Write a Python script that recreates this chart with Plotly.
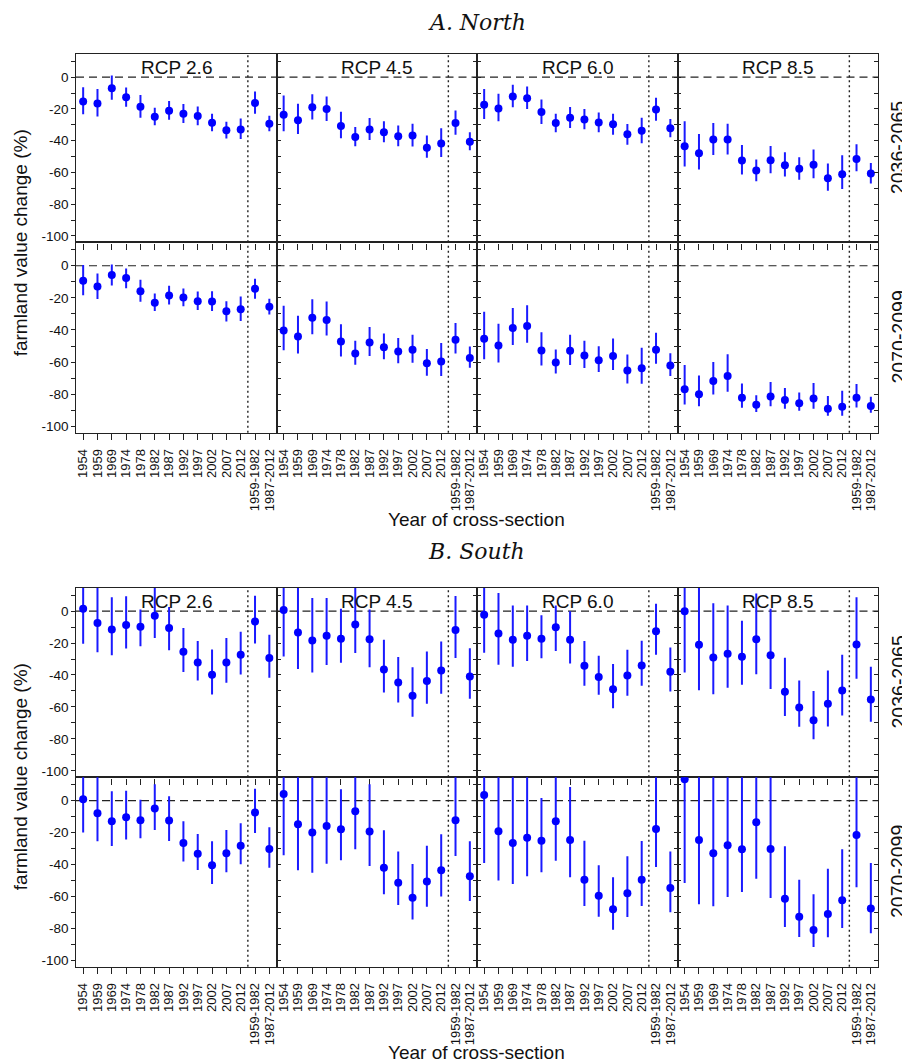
import plotly.graph_objects as go

# ---------------- data ----------------
years = ["1954", "1959", "1969", "1974", "1978", "1982", "1987", "1992",
         "1997", "2002", "2007", "2012", "1959-1982", "1987-2012"]
scenarios = ["RCP 2.6", "RCP 4.5", "RCP 6.0", "RCP 8.5"]
periods = ["2036-2065", "2070-2099"]
regions = ["A. North", "B. South"]
y_tick_values = [-100, -90, -80, -70, -60, -50, -40, -30, -20, -10, 0, 10]
y_tick_labels = ["-100", "", "-80", "", "-60", "", "-40", "", "-20", "", "0", ""]

# North, 2036-2065
n1_rcp26_est = [-15.3, -16.5, -6.9, -12.6, -18.6, -24.9, -21.1, -23.0, -24.5, -28.7, -33.5, -33.0, -16.3, -29.3]
n1_rcp26_lo = [-23.4, -24.7, -14.2, -18.6, -25.5, -30.3, -26.8, -28.9, -30.3, -34.1, -38.7, -38.9, -23.0, -34.1]
n1_rcp26_hi = [-6.3, -7.5, 1.0, -6.5, -11.3, -19.2, -15.0, -16.9, -18.4, -23.0, -28.0, -26.0, -9.0, -24.3]
n1_rcp45_est = [-23.6, -27.2, -19.0, -20.1, -30.8, -37.7, -33.0, -34.7, -37.2, -36.8, -44.4, -41.8, -28.9, -40.6]
n1_rcp45_lo = [-34.1, -35.8, -26.6, -27.6, -38.5, -43.5, -39.5, -41.0, -43.5, -43.7, -50.8, -50.2, -36.2, -46.0]
n1_rcp45_hi = [-11.5, -16.7, -10.7, -12.1, -21.8, -31.4, -25.7, -27.8, -30.5, -29.3, -36.8, -32.2, -21.0, -34.7]
n1_rcp60_est = [-17.4, -19.7, -12.1, -13.2, -22.0, -28.9, -25.5, -26.6, -28.5, -29.7, -36.0, -33.7, -20.3, -32.2]
n1_rcp60_lo = [-26.4, -27.8, -19.0, -20.1, -29.5, -34.7, -32.0, -32.8, -34.7, -36.2, -42.5, -41.6, -27.4, -37.9]
n1_rcp60_hi = [-7.5, -10.5, -4.8, -5.9, -14.0, -23.0, -18.8, -20.1, -22.2, -23.0, -29.5, -25.5, -13.0, -26.4]
n1_rcp85_est = [-43.5, -47.9, -39.3, -39.3, -52.5, -58.8, -52.3, -55.4, -57.7, -55.2, -63.6, -61.1, -51.5, -60.7]
n1_rcp85_lo = [-56.3, -58.2, -49.0, -48.7, -61.3, -65.5, -60.5, -62.6, -64.6, -63.6, -71.5, -70.5, -59.2, -66.9]
n1_rcp85_hi = [-27.8, -35.8, -28.9, -29.3, -42.7, -51.9, -43.3, -47.3, -50.4, -45.6, -54.4, -49.2, -42.3, -54.0]

# North, 2070-2099
n2_rcp26_est = [-9.4, -12.9, -5.8, -7.7, -15.9, -23.0, -18.6, -19.8, -22.1, -22.3, -28.4, -27.1, -14.4, -25.5]
n2_rcp26_lo = [-18.4, -20.7, -12.3, -14.0, -22.5, -28.2, -24.2, -25.3, -27.6, -28.2, -34.7, -34.4, -20.5, -30.3]
n2_rcp26_hi = [0.4, -4.8, 0.8, -1.7, -8.8, -17.3, -12.5, -14.2, -16.1, -15.9, -22.1, -19.2, -8.1, -20.5]
n2_rcp45_est = [-40.3, -44.0, -32.4, -33.8, -47.2, -54.7, -47.8, -50.7, -53.4, -52.4, -60.8, -59.7, -46.1, -57.4]
n2_rcp45_lo = [-52.6, -54.7, -42.6, -43.4, -56.6, -61.6, -56.2, -58.2, -60.8, -60.5, -68.5, -68.7, -54.7, -63.5]
n2_rcp45_hi = [-25.0, -31.1, -20.9, -22.3, -36.5, -46.8, -38.2, -42.2, -45.0, -43.0, -51.8, -48.2, -35.7, -50.3]
n2_rcp60_est = [-45.5, -49.7, -38.8, -37.6, -52.8, -60.3, -53.0, -55.9, -58.9, -56.2, -65.3, -63.9, -52.4, -62.2]
n2_rcp60_lo = [-58.2, -60.3, -49.3, -48.0, -62.2, -67.2, -61.8, -63.7, -66.2, -64.9, -73.3, -73.5, -61.0, -68.7]
n2_rcp60_hi = [-28.6, -36.1, -26.3, -24.6, -41.5, -52.2, -43.0, -46.8, -50.1, -45.3, -55.3, -51.1, -41.8, -54.5]
n2_rcp85_est = [-77.0, -80.0, -71.8, -68.7, -82.3, -86.6, -81.4, -83.7, -85.6, -82.7, -89.1, -87.9, -82.3, -87.3]
n2_rcp85_lo = [-86.4, -87.5, -80.2, -78.5, -88.5, -91.1, -87.5, -89.1, -90.4, -89.1, -93.5, -93.5, -88.3, -91.5]
n2_rcp85_hi = [-61.8, -68.3, -59.9, -55.1, -73.3, -80.6, -72.4, -76.2, -78.9, -73.1, -81.2, -77.9, -73.7, -81.6]

# South, 2036-2065
s1_rcp26_est = [1.5, -7.5, -11.5, -8.8, -9.8, -2.9, -10.6, -25.5, -32.2, -39.9, -32.2, -27.3, -6.5, -29.4]
s1_rcp26_lo = [-20.5, -25.7, -27.6, -23.4, -22.1, -16.9, -24.6, -38.2, -43.4, -52.2, -44.9, -39.7, -20.3, -41.8]
s1_rcp26_hi = [22.0, 16.0, 8.6, 9.2, 1.0, 15.0, 2.5, -10.6, -18.8, -24.0, -16.9, -12.9, 9.6, -14.8]
s1_rcp45_est = [0.6, -13.4, -18.4, -15.4, -17.3, -8.4, -17.7, -36.5, -44.7, -53.0, -43.8, -37.2, -11.9, -40.9]
s1_rcp45_lo = [-28.4, -36.3, -38.4, -33.8, -32.4, -26.3, -35.1, -50.9, -57.2, -66.2, -58.0, -51.8, -29.4, -54.9]
s1_rcp45_hi = [28.0, 15.0, 8.1, 8.1, 1.5, 16.0, 1.0, -18.0, -28.8, -35.1, -25.3, -19.0, 9.4, -23.2]
s1_rcp60_est = [-2.3, -14.0, -18.0, -15.4, -17.3, -10.2, -18.0, -34.2, -41.3, -48.9, -40.3, -34.0, -12.7, -38.0]
s1_rcp60_lo = [-26.1, -33.6, -34.9, -31.3, -29.6, -25.0, -32.8, -46.8, -52.4, -60.8, -53.0, -46.8, -27.3, -50.3]
s1_rcp60_hi = [20.0, 11.3, 3.5, 3.5, -2.7, 3.5, -0.2, -18.8, -28.0, -33.2, -24.2, -18.6, 4.6, -22.8]
s1_rcp85_est = [-0.2, -21.1, -29.0, -26.7, -28.6, -17.7, -27.6, -50.5, -60.3, -68.3, -58.0, -49.7, -20.9, -55.3]
s1_rcp85_lo = [-38.4, -49.5, -52.0, -48.0, -46.1, -39.5, -48.7, -65.6, -72.4, -80.2, -72.2, -65.3, -42.4, -69.3]
s1_rcp85_hi = [25.0, 15.0, 4.8, 3.5, -6.0, 10.9, 1.5, -29.2, -43.4, -50.0, -37.2, -27.3, 8.6, -34.9]

# South, 2070-2099
s2_rcp26_est = [0.8, -7.9, -12.9, -10.4, -12.3, -5.0, -12.5, -26.5, -33.2, -40.5, -33.0, -28.2, -7.5, -30.3]
s2_rcp26_lo = [-20.0, -25.5, -28.4, -24.4, -23.6, -18.4, -25.3, -38.2, -43.4, -52.2, -44.9, -39.9, -20.3, -42.0]
s2_rcp26_hi = [20.0, 15.0, 5.8, 6.1, 0.6, 10.2, 2.7, -12.9, -20.9, -25.5, -18.4, -14.2, 7.5, -16.7]
s2_rcp45_est = [4.2, -14.8, -20.0, -15.9, -18.0, -6.7, -19.4, -42.0, -51.4, -60.8, -50.7, -43.6, -12.3, -47.4]
s2_rcp45_lo = [-34.2, -43.6, -45.1, -39.5, -37.4, -30.5, -40.9, -58.7, -65.3, -74.5, -66.4, -60.1, -34.7, -62.8]
s2_rcp45_hi = [40.0, 15.0, 15.0, 15.0, 7.1, 16.0, 10.2, -18.6, -31.9, -39.7, -28.2, -21.1, 15.0, -25.5]
s2_rcp60_est = [3.5, -19.2, -26.5, -23.2, -25.1, -12.9, -24.6, -49.5, -59.5, -68.1, -58.0, -49.5, -17.7, -54.7]
s2_rcp60_lo = [-39.0, -50.1, -52.2, -47.4, -44.9, -37.6, -48.0, -66.0, -72.7, -80.8, -72.9, -66.0, -41.5, -69.9]
s2_rcp60_hi = [45.0, 15.0, 15.0, 15.0, 1.7, 15.0, 8.6, -25.1, -40.5, -48.0, -34.9, -25.3, 15.0, -31.9]
s2_rcp85_est = [13.4, -24.6, -33.0, -28.0, -30.5, -13.6, -30.3, -61.4, -72.7, -81.0, -71.0, -62.4, -21.5, -67.6]
s2_rcp85_lo = [-51.6, -64.9, -66.2, -60.3, -57.2, -48.9, -61.0, -79.1, -85.4, -91.6, -85.6, -79.7, -54.3, -83.1]
s2_rcp85_hi = [75.0, 16.0, 15.0, 15.0, 15.0, 20.0, 15.0, -28.6, -49.5, -58.7, -42.6, -30.5, 15.0, -39.0]

panels = [
    [  # North
        [(n1_rcp26_est, n1_rcp26_lo, n1_rcp26_hi), (n1_rcp45_est, n1_rcp45_lo, n1_rcp45_hi),
         (n1_rcp60_est, n1_rcp60_lo, n1_rcp60_hi), (n1_rcp85_est, n1_rcp85_lo, n1_rcp85_hi)],
        [(n2_rcp26_est, n2_rcp26_lo, n2_rcp26_hi), (n2_rcp45_est, n2_rcp45_lo, n2_rcp45_hi),
         (n2_rcp60_est, n2_rcp60_lo, n2_rcp60_hi), (n2_rcp85_est, n2_rcp85_lo, n2_rcp85_hi)],
    ],
    [  # South
        [(s1_rcp26_est, s1_rcp26_lo, s1_rcp26_hi), (s1_rcp45_est, s1_rcp45_lo, s1_rcp45_hi),
         (s1_rcp60_est, s1_rcp60_lo, s1_rcp60_hi), (s1_rcp85_est, s1_rcp85_lo, s1_rcp85_hi)],
        [(s2_rcp26_est, s2_rcp26_lo, s2_rcp26_hi), (s2_rcp45_est, s2_rcp45_lo, s2_rcp45_hi),
         (s2_rcp60_est, s2_rcp60_lo, s2_rcp60_hi), (s2_rcp85_est, s2_rcp85_lo, s2_rcp85_hi)],
    ],
]

# ---------------- layout geometry (screen pixels of the 910x1064 view) ----------------
OFF = 8            # the page body margin puts the figure at (8, 8)
W, H = 902, 1056   # figure size so that it fills the window


def fx(px):
    return (px - OFF) / W


def fy(py):
    return 1 - (py - OFF) / H


col_edges = [76, 276.5, 477, 677.5, 878]
row_edges = [[(54, 242.3), (242.3, 432.7)], [(587.7, 777.3), (777.3, 966.7)]]
title_y = [19, 551]
xtitle_y = [519, 1052]

FONT = "Liberation Sans, Arial, sans-serif"
x_pos = list(range(1, len(years) + 1))

fig = go.Figure()
layout = {}
shapes = []
annotations = []

k = 0
for r in range(2):
    for p in range(2):
        top, bot = row_edges[r][p]
        for c in range(4):
            k += 1
            est, lo, hi = panels[r][p][c]
            xa = "x" if k == 1 else f"x{k}"
            ya = "y" if k == 1 else f"y{k}"
            fig.add_trace(go.Scatter(
                x=x_pos, y=est, mode="markers", xaxis=xa, yaxis=ya,
                marker=dict(color="#0000ff", size=8),
                error_y=dict(type="data", symmetric=False,
                             array=[h - e for h, e in zip(hi, est)],
                             arrayminus=[e - l for e, l in zip(est, lo)],
                             color="#1a1aff", thickness=2, width=0),
                showlegend=False, hoverinfo="skip",
            ))
            xkey = "xaxis" if k == 1 else f"xaxis{k}"
            ykey = "yaxis" if k == 1 else f"yaxis{k}"
            layout[xkey] = dict(
                domain=[fx(col_edges[c]), fx(col_edges[c + 1])],
                anchor=ya, range=[0.5, 14.5],
                tickmode="array", tickvals=x_pos, ticktext=years,
                showticklabels=(p == 1), tickangle=-90, ticklabelstandoff=4,
                tickfont=dict(family=FONT, size=13, color="#111"),
                ticks="outside", ticklen=6, tickwidth=1.2, tickcolor="#222",
                showline=True, linecolor="#222", linewidth=1.4, mirror=True,
                showgrid=False, zeroline=False, fixedrange=True,
            )
            layout[ykey] = dict(
                domain=[fy(bot), fy(top)],
                anchor=xa, range=[-104, 14.6],
                tickmode="array", tickvals=y_tick_values, ticktext=y_tick_labels,
                showticklabels=(c == 0),
                tickfont=dict(family=FONT, size=13.5, color="#111"),
                ticks="outside" if c == 0 else "inside", ticklen=3.5,
                tickwidth=1.2, tickcolor="#222",
                showline=True, linecolor="#222", linewidth=1.4, mirror="ticks",
                showgrid=False, zeroline=False, fixedrange=True,
            )
            # dashed zero line
            shapes.append(dict(type="line", xref=xa, yref=ya, x0=0.5, x1=14.5, y0=0, y1=0,
                               line=dict(color="#222", width=1.2, dash="8px,5px"), layer="below"))
            # dotted separator between single years and pooled periods
            shapes.append(dict(type="line", xref=xa, yref=f"{ya} domain", x0=12.5, x1=12.5, y0=0, y1=1,
                               line=dict(color="#222", width=1.4, dash="2px,3px"), layer="below"))
            if p == 0:
                annotations.append(dict(
                    text=scenarios[c], x=fx((col_edges[c] + col_edges[c + 1]) / 2),
                    y=fy(top + 14), xref="paper", yref="paper",
                    xanchor="center", yanchor="middle", showarrow=False,
                    font=dict(family=FONT, size=19, color="#111")))
            if c == 3:
                annotations.append(dict(
                    text=periods[p], x=fx(898), y=fy((top + bot) / 2),
                    xref="paper", yref="paper", xanchor="center", yanchor="middle",
                    textangle=-90, showarrow=False,
                    font=dict(family=FONT, size=19.5, color="#111")))
    # block-level labels
    block_top = row_edges[r][0][0]
    block_bot = row_edges[r][1][1]
    annotations.append(dict(
        text="farmland value change (%)", x=fx(20), y=fy((block_top + block_bot) / 2),
        xref="paper", yref="paper", xanchor="center", yanchor="middle",
        textangle=-90, showarrow=False, font=dict(family=FONT, size=19, color="#111")))
    annotations.append(dict(
        text="Year of cross-section", x=fx(477), y=fy(xtitle_y[r]),
        xref="paper", yref="paper", xanchor="center", yanchor="middle",
        showarrow=False, font=dict(family=FONT, size=19, color="#111")))
    annotations.append(dict(
        text=f"<i>{regions[r]}</i>", x=fx(477),
        y=1.0 if r == 0 else fy(title_y[r]),
        xref="paper", yref="paper", xanchor="center",
        yanchor="top" if r == 0 else "middle",
        showarrow=False, font=dict(family="DejaVu Serif, serif", size=22, color="#111")))

fig.update_layout(
    **layout,
    shapes=shapes,
    annotations=annotations,
    width=W, height=H,
    margin=dict(l=0, r=0, t=0, b=0),
    paper_bgcolor="white",
    plot_bgcolor="rgba(0,0,0,0)",
    showlegend=False,
)

fig.write_html("out.html")
